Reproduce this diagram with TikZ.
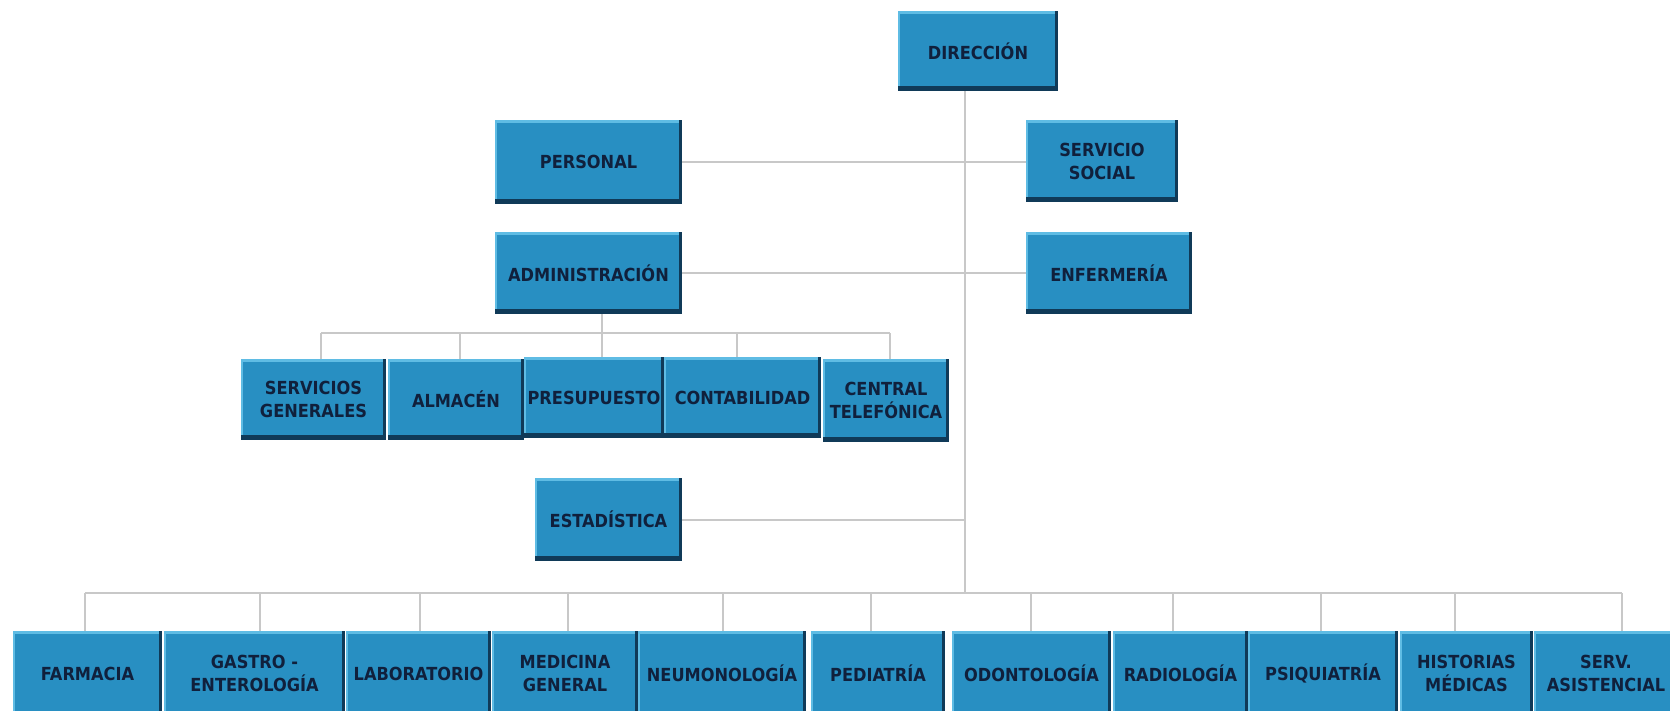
\documentclass[tikz,border=0pt]{standalone}
\usepackage{fontspec}
\newfontfamily\orgfont{DejaVu Sans Condensed}
\definecolor{boxblue}{RGB}{40,143,194}
\definecolor{boxlight}{RGB}{95,188,228}
\definecolor{boxdark}{RGB}{16,58,88}
\definecolor{boxtext}{RGB}{16,32,60}
\definecolor{linegray}{RGB}{200,200,200}
\tikzset{
  orgbox/.style={rectangle, inner sep=0pt, outer sep=0pt, fill=boxblue,
    text=boxtext, align=center,
    font=\orgfont\bfseries\fontsize{18}{23}\selectfont,
    path picture={
      \fill[boxlight] (path picture bounding box.north west) rectangle ([yshift=-3pt]path picture bounding box.north east);
      \fill[boxlight] (path picture bounding box.north west) rectangle ([xshift=2pt]path picture bounding box.south west);
      \fill[boxdark] (path picture bounding box.south west) rectangle ([yshift=5pt]path picture bounding box.south east);
      \fill[boxdark] ([xshift=-3pt]path picture bounding box.south east) rectangle (path picture bounding box.north east);
    }},
  link/.style={draw=linegray, line width=2pt}
}
% name, centre x, centre y, width, height, label
\newcommand\orgnode[6]{\node[orgbox, minimum width=#4pt, minimum height=#5pt] (#1) at (#2,#3) {#6};}
\begin{document}
\begin{tikzpicture}[x=1pt,y=-1pt]
\useasboundingbox[fill=white] (0,0) rectangle (1670,710);

% top level and staff units
\orgnode{dir}{978}{51}{160}{80}{DIRECCIÓN}
\orgnode{pers}{588.5}{162}{187}{84}{PERSONAL}
\orgnode{soc}{1102}{161}{152}{82}{SERVICIO\\SOCIAL}
\orgnode{adm}{588.5}{273}{187}{82}{ADMINISTRACIÓN}
\orgnode{enf}{1109}{273}{166}{82}{ENFERMERÍA}

% administration units
\orgnode{sg}{313.5}{399.5}{145}{81}{SERVICIOS\\GENERALES}
\orgnode{alm}{456}{399.5}{136}{81}{ALMACÉN}
\orgnode{pres}{594}{397.5}{140}{81}{PRESUPUESTO}
\orgnode{cont}{742.5}{397.5}{157}{81}{CONTABILIDAD}
\orgnode{cent}{886}{400.5}{126}{83}{CENTRAL\\TELEFÓNICA}

\orgnode{est}{608.5}{519.5}{147}{83}{ESTADÍSTICA}

% medical services (the row runs past the lower edge)
\orgnode{farm}{87.5}{673.5}{149}{85}{FARMACIA}
\orgnode{gastro}{254.5}{673.5}{181}{85}{GASTRO -\\ENTEROLOGÍA}
\orgnode{lab}{418.5}{673.5}{145}{85}{LABORATORIO}
\orgnode{med}{565}{673.5}{146}{85}{MEDICINA\\GENERAL}
\orgnode{neu}{722}{673.5}{168}{85}{NEUMONOLOGÍA}
\orgnode{ped}{878}{673.5}{134}{85}{PEDIATRÍA}
\orgnode{odon}{1031.5}{673.5}{159}{85}{ODONTOLOGÍA}
\orgnode{rad}{1180.5}{673.5}{135}{85}{RADIOLOGÍA}
\orgnode{psiq}{1323}{673.5}{150}{85}{PSIQUIATRÍA}
\orgnode{hist}{1466.5}{673.5}{133}{85}{HISTORIAS\\MÉDICAS}
\orgnode{serv}{1606}{673.5}{144}{85}{SERV.\\ASISTENCIAL}

% junction points
\coordinate (trunk) at (965,593);
\coordinate (admbar) at (602,333);
\coordinate (admL) at (321,333);
\coordinate (admR) at (890,333);
\coordinate (medL) at (85,593);
\coordinate (medR) at (1622,593);

% main trunk and side branches
\draw[link] (dir.south -| trunk) -- (trunk);
\draw[link] (pers.east) -- (soc.west |- pers.east);
\draw[link] (adm.east) -- (enf.west |- adm.east);
\draw[link] (est.east) -- (est.east -| trunk);

% administration branch
\draw[link] (adm.south -| admbar) -- (admbar);
\draw[link] (admL) -- (admR);
\foreach \n/\x in {sg/321, alm/460, pres/602, cont/737, cent/890}
  \draw[link] (\x,333) -- (\n.north -| \x,333);

% services branch
\draw[link] (medL) -- (medR);
\foreach \n/\x in {farm/85, gastro/260, lab/420, med/568, neu/723, ped/871,
                   odon/1031, rad/1173, psiq/1321, hist/1455, serv/1622}
  \draw[link] (\x,593) -- (\n.north -| \x,593);
\end{tikzpicture}
\end{document}
